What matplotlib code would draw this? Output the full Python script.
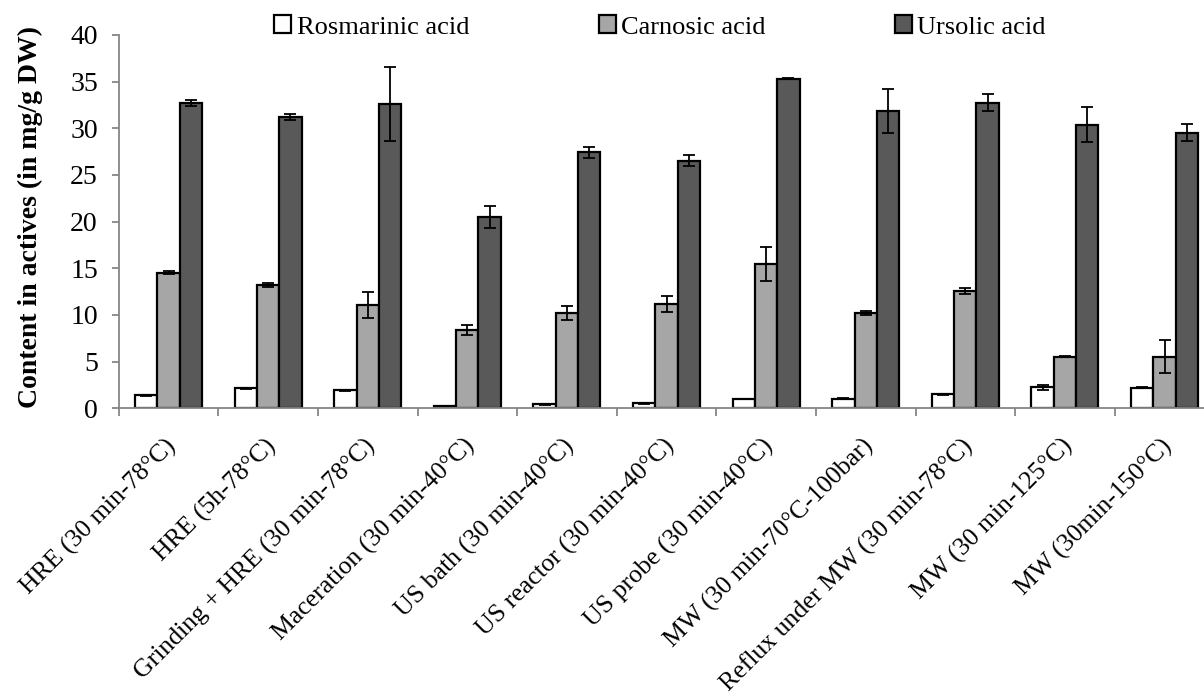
import numpy as np
import matplotlib
matplotlib.use("Agg")
import matplotlib.pyplot as plt
import matplotlib.transforms as mtransforms
from matplotlib.patches import Patch

# Data (mg/g DW)
methods = [
    "HRE (30 min-78°C)",
    "HRE (5h-78°C)",
    "Grinding + HRE (30 min-78°C)",
    "Maceration (30 min-40°C)",
    "US bath (30 min-40°C)",
    "US reactor (30 min-40°C)",
    "US probe (30 min-40°C)",
    "MW (30 min-70°C-100bar)",
    "Reflux under MW (30 min-78°C)",
    "MW (30 min-125°C)",
    "MW (30min-150°C)",
]
rosmarinic = [1.4, 2.15, 1.95, 0.25, 0.45, 0.55, 1.0, 1.05, 1.5, 2.25, 2.2]
rosmarinic_err = [0.05, 0.05, 0.05, 0.03, 0.05, 0.05, 0.05, 0.05, 0.05, 0.27, 0.05]
carnosic = [14.55, 13.2, 11.05, 8.4, 10.2, 11.2, 15.45, 10.25, 12.6, 5.55, 5.55]
carnosic_err = [0.12, 0.25, 1.4, 0.5, 0.78, 0.84, 1.84, 0.2, 0.3, 0.05, 1.72]
ursolic = [32.7, 31.2, 32.6, 20.55, 27.45, 26.5, 35.3, 31.9, 32.75, 30.4, 29.55]
ursolic_err = [0.35, 0.35, 3.95, 1.18, 0.59, 0.59, 0.05, 2.35, 0.9, 1.9, 0.96]

series_names = ["Rosmarinic acid", "Carnosic acid", "Ursolic acid"]
series_colors = ["#FFFFFF", "#A6A6A6", "#595959"]

plt.rcParams.update({
    'font.family': ['Liberation Serif', 'DejaVu Serif'],
    'font.size': 19,
})

fig = plt.figure(figsize=(12.04, 6.97), dpi=100)
W, H = 1204, 697
# axes box in pixels: left 118.7, zero line 408.3, top (40) 35, 11 categories x 99.6 px
ax = fig.add_axes([118.7 / W, 1 - 408.3 / H, 11 * 99.6 / W, 373.3 / H])

x = np.arange(len(methods))
bw = 0.224
all_vals = [rosmarinic, carnosic, ursolic]
all_errs = [rosmarinic_err, carnosic_err, ursolic_err]
for i, (vals, errs) in enumerate(zip(all_vals, all_errs)):
    ax.bar(x + (i - 1) * bw, vals, width=bw, color=series_colors[i],
           edgecolor='black', linewidth=1.6, zorder=2)
    ax.errorbar(x + (i - 1) * bw, vals, yerr=errs, fmt='none', ecolor='black',
                elinewidth=1.3, capsize=4.5, capthick=1.3, zorder=3)

ax.set_xlim(-0.5, len(methods) - 0.5)
ax.set_ylim(0, 40)
ax.set_yticks(np.arange(0, 41, 5))

for side in ['top', 'right']:
    ax.spines[side].set_visible(False)
for side in ['left', 'bottom']:
    ax.spines[side].set_color('#868686')
    ax.spines[side].set_linewidth(1.3)
    ax.spines[side].set_zorder(4)

ax.tick_params(axis='y', direction='out', length=5, width=1.3, color='#868686',
               labelsize=20, pad=10)
# boundary ticks (major) and category labels (minor)
ax.set_xticks(np.arange(-0.5, len(methods), 1.0))
ax.set_xticklabels([])
ax.set_xticks(x, minor=True)
ax.set_xticklabels(methods, minor=True, rotation=45, ha='right', va='top',
                   rotation_mode='anchor', fontsize=18.5)
ax.tick_params(axis='x', which='major', direction='out', length=6, width=1.3,
               color='#868686')
ax.tick_params(axis='x', which='minor', length=0, pad=19)
offset = mtransforms.ScaledTranslation(-0.04, 0, fig.dpi_scale_trans)
for lbl in ax.get_xticklabels(minor=True):
    lbl.set_transform(lbl.get_transform() + offset)

fig.text(30 / W, 1 - 217 / H, "Content in actives (in mg/g DW)", rotation=90,
         ha='center', va='center', fontsize=20, fontweight='bold')

handles = [Patch(facecolor=c, edgecolor='black', linewidth=1.6) for c in series_colors]
fig.legend(handles, series_names, loc='center', bbox_to_anchor=(660 / W, 1 - 27 / H),
           ncol=3, frameon=False, fontsize=19, handlelength=0.65, handleheight=0.65,
           handletextpad=0.2, columnspacing=4.9, borderaxespad=0)

fig.savefig('out.png', dpi=100)
